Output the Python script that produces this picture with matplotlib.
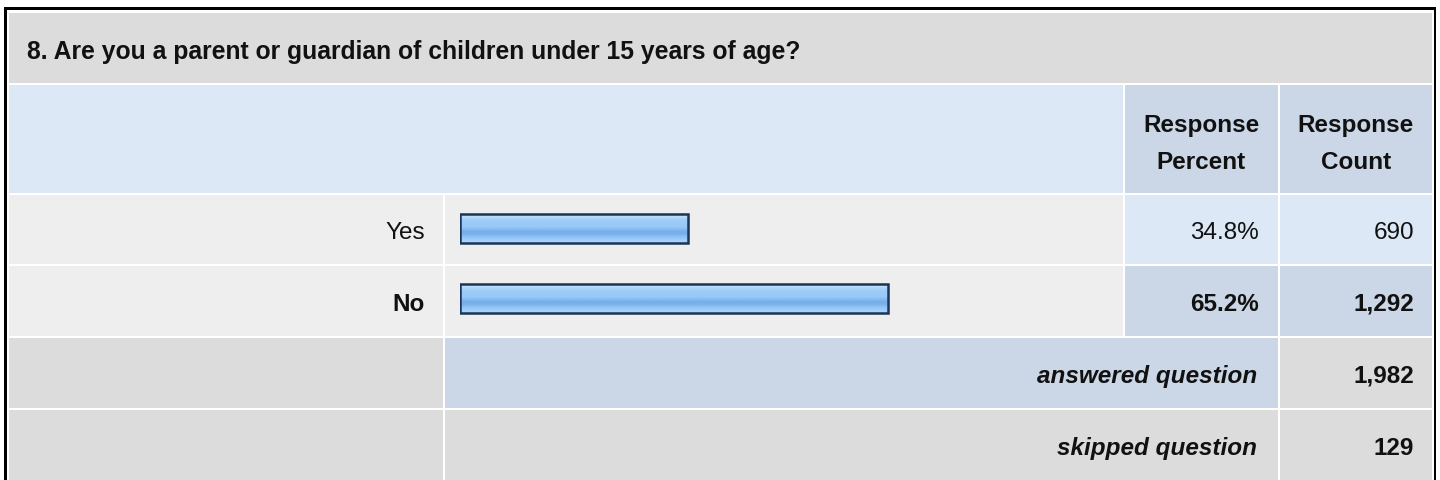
import matplotlib
matplotlib.use("Agg")
import matplotlib.pyplot as plt
from matplotlib.patches import Rectangle
import numpy as np

# ---- data ----
question = "8. Are you a parent or guardian of children under 15 years of age?"
categories = ["Yes", "No"]
percents = [34.8, 65.2]
counts = [690, 1292]
answered = 1982
skipped = 129
header_pct = "Response\nPercent"
header_cnt = "Response\nCount"

plt.rcParams['font.family'] = ['Liberation Sans', 'DejaVu Sans']

W, H = 1440, 481
fig = plt.figure(figsize=(W / 100, H / 100), dpi=100)
fig.patch.set_facecolor('white')
ax = fig.add_axes([0, 0, 1, 1])
ax.set_xlim(0, W)
ax.set_ylim(H, 0)
ax.axis('off')

def rect(x0, y0, x1, y1, color):
    ax.add_patch(Rectangle((x0, y0), x1 - x0, y1 - y0, facecolor=color,
                           edgecolor='none', linewidth=0))

GRAY = '#dcdcdc'
LIGHT = '#eeeeee'
BLUE1 = '#dce8f5'
BLUE2 = '#cbd7e6'

# outer border
rect(4, 8, 1435.5, 500, 'black')
rect(7, 11, 1433.5, 500, 'white')

# columns
c0a, c0b = 9, 442.5
c1a, c1b = 445, 1122.5
c2a, c2b = 1125, 1277.5
c3a, c3b = 1280, 1431.5

# rows
r_title = (13.5, 83.5)
r_head = (86, 193.5)
r_rows = [(196, 264.5), (267, 336.5)]
r_ans = (339, 408.5)
r_skip = (411, 500)

rect(c0a, r_title[0], c3b, r_title[1], GRAY)
rect(c0a, r_head[0], c1b, r_head[1], BLUE1)
rect(c2a, r_head[0], c2b, r_head[1], BLUE2)
rect(c3a, r_head[0], c3b, r_head[1], BLUE2)
row_cols = [BLUE1, BLUE2]
for (ya, yb), col in zip(r_rows, row_cols):
    rect(c0a, ya, c0b, yb, LIGHT)
    rect(c1a, ya, c1b, yb, LIGHT)
    rect(c2a, ya, c2b, yb, col)
    rect(c3a, ya, c3b, yb, col)
rect(c0a, r_ans[0], c0b, r_ans[1], GRAY)
rect(c1a, r_ans[0], c2b, r_ans[1], BLUE2)
rect(c3a, r_ans[0], c3b, r_ans[1], GRAY)
rect(c0a, r_skip[0], c0b, r_skip[1], GRAY)
rect(c1a, r_skip[0], c2b, r_skip[1], GRAY)
rect(c3a, r_skip[0], c3b, r_skip[1], GRAY)

FS = 17.5
CAP = 8.8  # half cap height in px
TXT = '#111111'

# title
ax.text(27, 59.5, question, fontsize=17.8, fontweight='bold', color=TXT,
        ha='left', va='baseline')

# header
for cx, txt in [((c2a + c2b) / 2, header_pct), ((c3a + c3b) / 2, header_cnt)]:
    l1, l2 = txt.split("\n")
    ax.text(cx, 132, l1, fontsize=FS, fontweight='bold', ha='center', va='baseline', color=TXT)
    ax.text(cx, 169, l2, fontsize=FS, fontweight='bold', ha='center', va='baseline', color=TXT)

# rows
for i, ((ya, yb), cat, p, n) in enumerate(zip(r_rows, categories, percents, counts)):
    yc = (ya + yb) / 2 + CAP
    w = 'bold' if i == 1 else 'normal'
    ax.text(425, yc, cat, fontsize=FS, fontweight=w, ha='right', va='baseline', color=TXT)
    ax.text(1259, yc, f"{p:.1f}%", fontsize=FS, fontweight=w, ha='right', va='baseline', color=TXT)
    ax.text(1414, yc, f"{n:,}", fontsize=FS, fontweight=w, ha='right', va='baseline', color=TXT)

ya = (r_ans[0] + r_ans[1]) / 2 + CAP
ax.text(1257, ya, "answered question", fontsize=FS, fontweight='bold', fontstyle='italic',
        ha='right', va='baseline', color=TXT)
ax.text(1414, ya, f"{answered:,}", fontsize=FS, fontweight='bold', ha='right', va='baseline', color=TXT)
ys = (411 + 481) / 2 + CAP
ax.text(1257, ys, "skipped question", fontsize=FS, fontweight='bold', fontstyle='italic',
        ha='right', va='baseline', color=TXT)
ax.text(1414, ys, f"{skipped:,}", fontsize=FS, fontweight='bold', ha='right', va='baseline', color=TXT)

# bar axes
bx0, bw = 460, 656
by0, by1 = 194.5, 334.5
bax = fig.add_axes([bx0 / W, (H - by1) / H, bw / W, (by1 - by0) / H])
bax.axis('off')
grad_colors = ['#d2e8fd', '#b9dbfb', '#a5d1f9', '#9bcbf8', '#98c9f7', '#98c9f7',
               '#86bcf1', '#76aeeb', '#7ab2ec', '#8ec2f4', '#9dccf7', '#a8d3f9']
rgb = np.array([matplotlib.colors.to_rgb(c) for c in grad_colors])[:, None, :]
bh = 0.415
for i, p in enumerate(percents):
    bax.imshow(rgb, extent=(0, p, i + bh / 2, i - bh / 2), aspect='auto',
               interpolation='bilinear', zorder=1)
bax.barh(range(len(categories)), percents, height=bh, left=0, facecolor='none',
         edgecolor='#1c3557', linewidth=1.8, zorder=2)
bax.set_xlim(0, 100)
bax.set_ylim(1.5, -0.5)

fig.savefig("out.png", dpi=100, facecolor='white')
